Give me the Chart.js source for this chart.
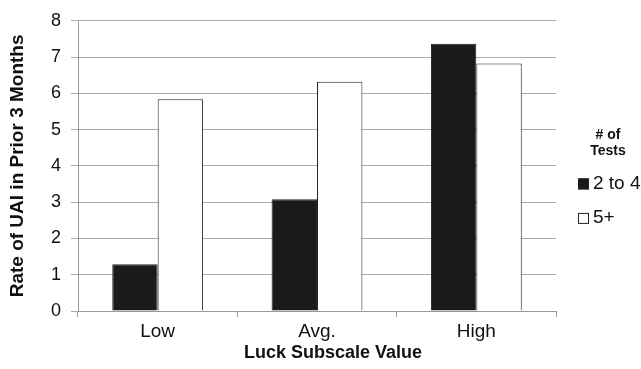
<!DOCTYPE html>
<html>
<head>
<meta charset="utf-8">
<script src="https://cdn.jsdelivr.net/npm/chart.js@4.4.0/dist/chart.umd.min.js"></script>
<style>
  html, body { margin: 0; padding: 0; background: #fff; }
</style>
</head>
<body>
<canvas id="chart_1" width="641" height="369"></canvas>
<script>
// datos
var categories = ["Low", "Avg.", "High"];
var seriesLabels = ["2 to 4", "5+"];
var tests2to4 = [1.29, 3.08, 7.37];
var tests5plus = [5.84, 6.32, 6.82];
var legendTitle = ["# of", "Tests"];
var xTitle = "Luck Subscale Value";
var yTitle = "Rate of UAI in Prior 3 Months";

var fontFam = "'Liberation Sans', Arial, sans-serif";
var fills = ['#1a1a1a', '#ffffff'];

// leyenda y titulo del eje x dibujados a mano
var extrasPlugin = {
  id: 'extras',
  afterDraw: function(chart) {
    var ctx = chart.ctx;
    var area = chart.chartArea;
    var midY = (area.top + area.bottom) / 2;
    ctx.save();
    ctx.fillStyle = '#111';
    ctx.textBaseline = 'middle';

    // titulo eje x
    ctx.font = 'bold 18px ' + fontFam;
    ctx.textAlign = 'center';
    ctx.fillText(xTitle, 333, area.bottom + 42);

    // titulo leyenda
    ctx.font = 'bold 14px ' + fontFam;
    legendTitle.forEach(function(line, i) {
      ctx.fillText(line, area.right + 52, midY - 31 + i * 16);
    });

    // items leyenda
    ctx.textAlign = 'left';
    ctx.font = '19px ' + fontFam;
    chart.data.datasets.forEach(function(ds, i) {
      var cy = midY + 17.5 + i * 34.5;
      var sx = area.right + 22;
      ctx.fillStyle = ds.backgroundColor;
      ctx.fillRect(sx, cy - 5, 11, 11);
      ctx.strokeStyle = '#222';
      ctx.lineWidth = 1;
      ctx.strokeRect(sx + 0.5, cy - 4.5, 10, 10);
      ctx.fillStyle = '#111';
      ctx.fillText(ds.label, sx + 15, cy);
    });
    ctx.restore();
  }
};

var ctx = document.getElementById('chart_1').getContext('2d');
var chart = new Chart(ctx, {
  type: 'bar',
  data: {
    labels: categories,
    datasets: [
      {
        label: seriesLabels[0],
        data: tests2to4,
        backgroundColor: fills[0],
        borderColor: '#222',
        borderWidth: 1,
        categoryPercentage: 0.57,
        barPercentage: 1.0
      },
      {
        label: seriesLabels[1],
        data: tests5plus,
        backgroundColor: fills[1],
        borderColor: '#222',
        borderWidth: 1,
        categoryPercentage: 0.57,
        barPercentage: 1.0
      }
    ]
  },
  options: {
    responsive: false,
    animation: false,
    layout: { padding: { top: 20, right: 85, bottom: 0, left: 0 } },
    plugins: {
      legend: { display: false },
      tooltip: { enabled: false }
    },
    scales: {
      x: {
        grid: { drawOnChartArea: false, tickLength: 6, color: '#999', offset: true },
        border: { color: '#999' },
        ticks: { color: '#111', font: { family: fontFam, size: 19 }, padding: 3 },
        afterFit: function(s) { s.height = 58; }
      },
      y: {
        min: 0,
        max: 8,
        ticks: { stepSize: 1, color: '#111', font: { family: fontFam, size: 18 }, padding: 10 },
        grid: { color: '#aaa', tickLength: 7 },
        border: { color: '#999' },
        title: {
          display: true,
          text: yTitle,
          color: '#111',
          font: { family: fontFam, size: 19, weight: 'bold' },
          padding: { top: 6, bottom: 0 }
        },
        afterFit: function(s) { s.width = 78; }
      }
    }
  },
  plugins: [extrasPlugin]
});
</script>
</body>
</html>
